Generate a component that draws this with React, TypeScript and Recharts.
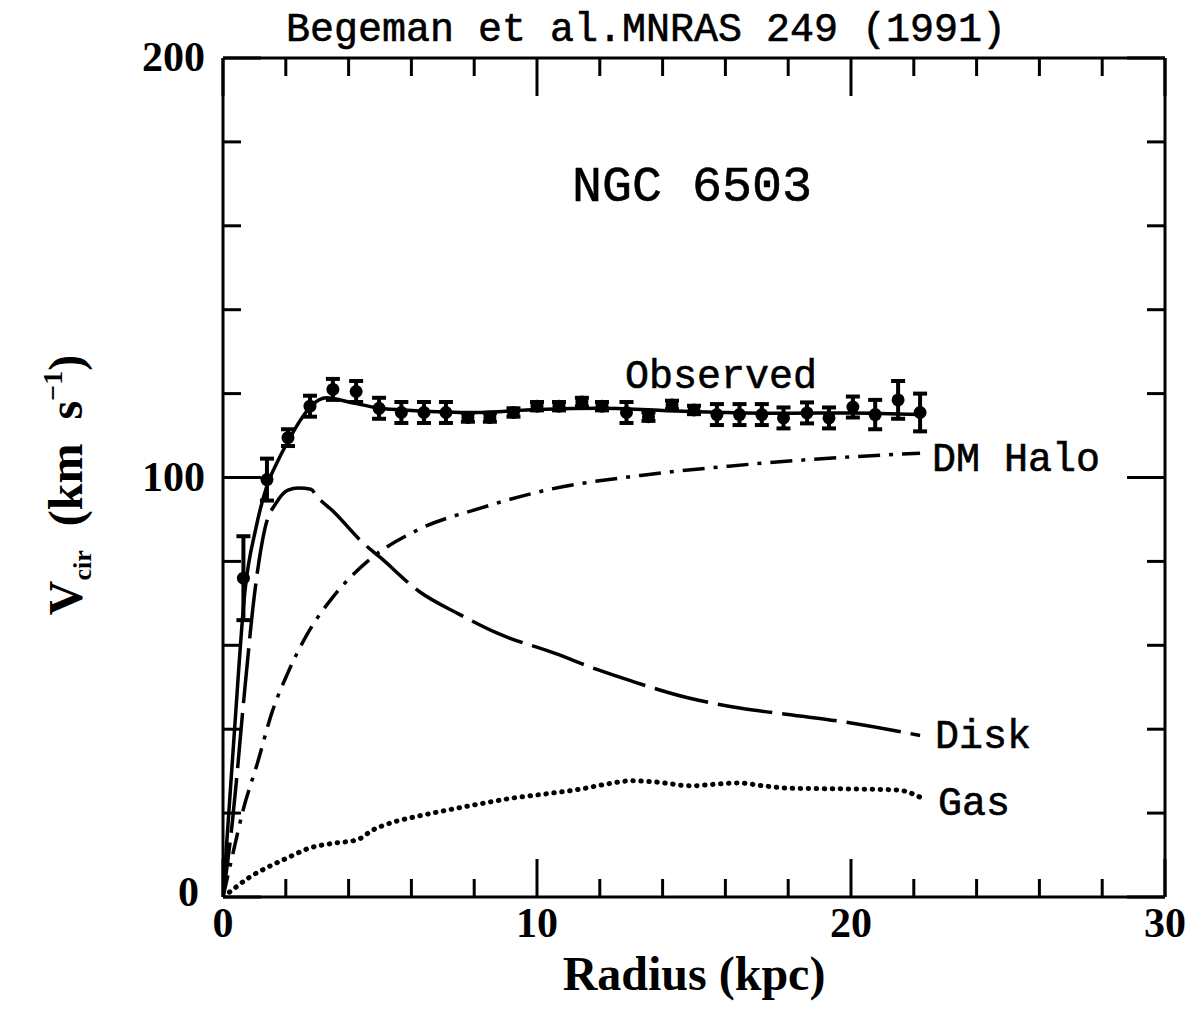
import { ComposedChart, Line, Scatter, ErrorBar, XAxis, YAxis } from 'recharts'

// radius (kpc), velocity (km/s), error (km/s)
const OBSERVED: [number, number, number][] = [
  [0.65, 76, 10], [1.4, 99.5, 5], [2.07, 109.5, 2], [2.77, 117, 2.5], [3.5, 121, 2.5],
  [4.24, 120.5, 2.5], [4.97, 116.5, 2.5], [5.68, 115.5, 2.5], [6.4, 115.5, 2.5], [7.1, 115.5, 2.5],
  [7.8, 114.3, 1], [8.5, 114.3, 1], [9.25, 115.5, 1], [10.0, 117, 1], [10.7, 117, 1],
  [11.43, 118, 1], [12.07, 117, 1], [12.85, 115.5, 2.5], [13.55, 114.5, 1], [14.3, 117.3, 1],
  [15.0, 116.1, 1], [15.73, 115, 2.5], [16.45, 115, 2.5], [17.16, 115, 2.5], [17.85, 114.2, 2.5],
  [18.6, 115.4, 2.5], [19.3, 114.2, 2.5], [20.06, 116.8, 2.5], [20.77, 115, 3.5], [21.5, 118.5, 4.5],
  [22.2, 115.5, 4.5],
]

const TOTAL: [number, number][] = [
  [0, 0], [0.35, 38], [0.7, 73], [1.05, 88], [1.4, 98], [1.75, 104], [2.1, 109], [2.45, 113.5],
  [2.8, 117], [3.3, 119], [4, 118], [5, 116.5], [6, 116], [8, 115.5], [10, 116.2], [12, 116.5],
  [14, 116], [16, 115.5], [18, 115.3], [20, 115.4], [22.2, 115],
]

const DISK: [number, number][] = [
  [0, 0], [0.3, 18], [0.7, 50], [1.0, 72], [1.34, 88], [1.7, 94], [2.07, 97], [2.4, 97.5],
  [2.8, 97.2], [3.0, 95.4], [3.5, 92], [4.46, 84.4], [5.0, 81], [6.27, 72.7], [7.5, 67.5],
  [8.7, 63], [10.6, 58], [12, 54], [13, 51.5], [14.8, 47.5], [16.5, 45], [18, 43.5], [20, 41.5],
  [22.2, 38.5],
]

const HALO: [number, number][] = [
  [0, 0], [0.32, 10.5], [0.64, 20.7], [1.1, 32], [1.56, 44], [2.04, 53], [2.67, 62.5], [3.5, 71.5],
  [4.6, 80], [6.2, 87.5], [8.2, 92.7], [10.3, 97], [13.3, 100.5], [16.1, 102.7], [19.3, 104.6],
  [22.2, 105.8],
]

const GAS: [number, number][] = [
  [0, 0], [0.3, 1.7], [0.8, 4.5], [1.4, 7], [2.1, 9.5], [2.77, 11.7], [3.5, 12.8], [4.26, 13.6],
  [4.78, 16], [5.4, 17.8], [6.05, 19], [7, 20.5], [8.18, 22.2], [9.24, 23.6], [10.3, 24.6],
  [11.37, 25.7], [12.2, 26.9], [13.0, 27.7], [13.8, 27.4], [14.9, 26.5], [15.7, 26.9], [16.4, 27.2],
  [17.2, 26.5], [18.15, 25.9], [19.5, 25.8], [20.5, 25.7], [21.5, 25.5], [22.2, 23.8],
]

const X_TICKS = [0, 2, 4, 6, 8, 10, 12, 14, 16, 18, 20, 22, 24, 26, 28, 30]
const X_MAJOR = [0, 10, 20, 30]
const Y_TICKS = [0, 20, 40, 60, 80, 100, 120, 140, 160, 180, 200]
const Y_MAJOR = [0, 100, 200]

const toPts = (rows: [number, number][]) => rows.map(([r, v]) => ({ r, v }))
const obsData = OBSERVED.map(([r, v, err]) => ({ r, v, err }))

const MONO = '"Liberation Mono", "DejaVu Sans Mono", monospace'
const SERIF = '"Liberation Serif", "DejaVu Serif", serif'
const axisLine = { stroke: '#000', strokeWidth: 3 }
const MAJOR_LEN = 38
const MINOR_LEN = 18

function BottomTick(p: any) {
  const v = p.payload.value
  const major = X_MAJOR.includes(v)
  return (
    <g>
      <line x1={p.x} x2={p.x} y1={p.y} y2={p.y - (major ? MAJOR_LEN : MINOR_LEN)} stroke="#000" strokeWidth={3} />
      {major && (
        <text x={p.x} y={p.y + 40} textAnchor="middle" fontFamily={SERIF} fontWeight="bold" fontSize={42} fill="#000">
          {v}
        </text>
      )}
    </g>
  )
}

function TopTick(p: any) {
  const major = X_MAJOR.includes(p.payload.value)
  return <line x1={p.x} x2={p.x} y1={p.y} y2={p.y + (major ? MAJOR_LEN : MINOR_LEN)} stroke="#000" strokeWidth={3} />
}

function LeftTick(p: any) {
  const v = p.payload.value
  const major = Y_MAJOR.includes(v)
  return (
    <g>
      <line x1={p.x} x2={p.x + (major ? MAJOR_LEN : MINOR_LEN)} y1={p.y} y2={p.y} stroke="#000" strokeWidth={3} />
      {major && (
        <text x={p.x - (v === 0 ? 24 : 18)} y={p.y + (v === 0 ? 9 : 13)} textAnchor="end" fontFamily={SERIF} fontWeight="bold" fontSize={42} fill="#000">
          {v}
        </text>
      )}
    </g>
  )
}

function RightTick(p: any) {
  const major = Y_MAJOR.includes(p.payload.value)
  return <line x1={p.x} x2={p.x - (major ? MAJOR_LEN : MINOR_LEN)} y1={p.y} y2={p.y} stroke="#000" strokeWidth={3} />
}

const dotShape = (p: any) => <circle cx={p.cx} cy={p.cy} r={6.5} fill="#000" />

export default function App() {
  return (
    <div style={{ position: 'absolute', left: 0, top: 0, width: 1185, height: 1028, background: '#fff' }}>
      <ComposedChart width={1185} height={1028} margin={{ top: 28, right: 0, bottom: 71, left: 80 }}>
        <XAxis
          dataKey="r" type="number" domain={[0, 30]} ticks={X_TICKS} interval={0}
          orientation="bottom" height={60} axisLine={axisLine} tickLine={false}
          tickSize={0} tickMargin={0} tick={BottomTick} allowDataOverflow
        />
        <XAxis
          xAxisId="top" dataKey="r" type="number" domain={[0, 30]} ticks={X_TICKS} interval={0}
          orientation="top" height={30} axisLine={axisLine} tickLine={false}
          tickSize={0} tickMargin={0} tick={TopTick} allowDataOverflow
        />
        <YAxis
          type="number" domain={[0, 200]} ticks={Y_TICKS} interval={0} width={143}
          axisLine={axisLine} tickLine={false} tickSize={0} tickMargin={0} tick={LeftTick} allowDataOverflow
        />
        <YAxis
          yAxisId="right" orientation="right" type="number" domain={[0, 200]} ticks={Y_TICKS} interval={0}
          width={20} axisLine={axisLine} tickLine={false} tickSize={0} tickMargin={0} tick={RightTick} allowDataOverflow
        />
        <Line data={toPts(GAS)} dataKey="v" type="monotone" stroke="#000" strokeWidth={5}
          strokeDasharray="0.5 7.5" strokeLinecap="round" dot={false} activeDot={false} isAnimationActive={false} />
        <Line data={toPts(HALO)} dataKey="v" type="monotone" stroke="#000" strokeWidth={3.5}
          strokeDasharray="22 9 4 9" dot={false} activeDot={false} isAnimationActive={false} />
        <Line data={toPts(DISK)} dataKey="v" type="monotone" stroke="#000" strokeWidth={3.5}
          strokeDasharray="55 10" dot={false} activeDot={false} isAnimationActive={false} />
        <Line data={toPts(TOTAL)} dataKey="v" type="monotone" stroke="#000" strokeWidth={3.5}
          dot={false} activeDot={false} isAnimationActive={false} />
        <Scatter data={obsData} dataKey="v" shape={dotShape} isAnimationActive={false}>
          <ErrorBar dataKey="err" direction="y" width={7} stroke="#000" strokeWidth={4} />
        </Scatter>
      </ComposedChart>
      <svg width={1185} height={1028} style={{ position: 'absolute', left: 0, top: 0, pointerEvents: 'none' }}>
        <g fontFamily={MONO} fontSize={40} fill="#000" stroke="#000" strokeWidth={0.6}>
          <text x={646} y={41} textAnchor="middle">Begeman et al.MNRAS 249 (1991)</text>
          <text x={572} y={201} fontSize={50}>NGC 6503</text>
          <text x={625} y={388}>Observed</text>
          <text x={932} y={471}>DM Halo</text>
          <text x={935} y={748}>Disk</text>
          <text x={938} y={815}>Gas</text>
        </g>
        <text x={694} y={990} textAnchor="middle" fontFamily={SERIF} fontWeight="bold" fontSize={48} fill="#000">
          Radius (kpc)
        </text>
        <text transform="translate(82,485) rotate(-90)" textAnchor="middle" fontFamily={SERIF} fontWeight="bold" fontSize={48} fill="#000">
          V<tspan fontSize={26} dy={9}>cir</tspan>
          <tspan fontSize={48} dy={-9} xmlSpace="preserve">{'  (km  s'}</tspan>
          <tspan fontSize={28} dy={-20}>−1</tspan>
          <tspan fontSize={48} dy={20}>)</tspan>
        </text>
      </svg>
    </div>
  )
}
